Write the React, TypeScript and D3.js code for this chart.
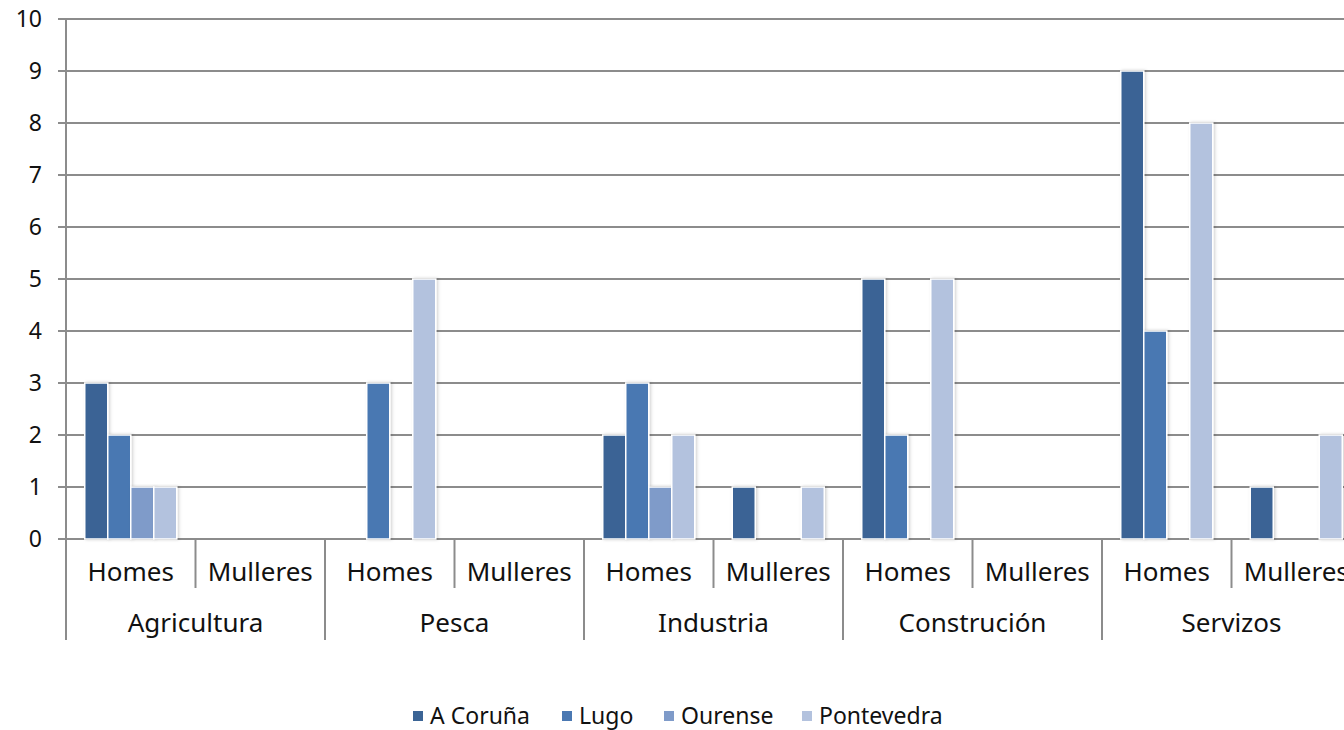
import React from "react";
import * as d3 from "d3";

const sectors = ["Agricultura", "Pesca", "Industria", "Construción", "Servizos"];
const sexes = ["Homes", "Mulleres"];
const provinces = ["A Coruña", "Lugo", "Ourense", "Pontevedra"];
const colors = ["#3b6495", "#4a78b2", "#7f9bc9", "#b3c2de"];
// values per province, in order: sector x sex
const aCoruna = [3, 0, 0, 0, 2, 1, 5, 0, 9, 1];
const lugo = [2, 0, 3, 0, 3, 0, 2, 0, 4, 0];
const ourense = [1, 0, 0, 0, 1, 0, 0, 0, 0, 0];
const pontevedra = [1, 0, 5, 0, 2, 1, 5, 0, 8, 2];
const series = [aCoruna, lugo, ourense, pontevedra];
const yTicks = [0, 1, 2, 3, 4, 5, 6, 7, 8, 9, 10];

const W = 1344, H = 730;
const left = 66, plotRight = 1361, top = 19, bottom = 539;
const font = "'Noto Sans', sans-serif";

export default function App() {
  const subKeys = sectors.flatMap((s) => sexes.map((x) => s + "|" + x));
  const x0 = d3.scaleBand().domain(subKeys).range([left, plotRight]).paddingInner(0).paddingOuter(0);
  const x1 = d3.scaleBand().domain(provinces).range([0, x0.bandwidth()]).paddingOuter(0.815).paddingInner(0);
  const y = d3.scaleLinear().domain([0, 10]).range([bottom, top]);
  const groupW = x0.bandwidth() * 2;

  return (
    <svg width={W} height={H} style={{ position: "absolute", left: 0, top: 0, background: "#fff" }}>
      <defs>
        <filter id="sh" x="-20%" y="-5%" width="150%" height="115%">
          <feDropShadow dx="1.5" dy="0" stdDeviation="1.5" floodColor="#000" floodOpacity="0.18" />
        </filter>
      </defs>
      {yTicks.map((t) => (
        <g key={t}>
          <line x1={58} x2={W} y1={y(t)} y2={y(t)} stroke="#8c8c8c" strokeWidth={2} />
          <text x={42} y={y(t) + 8} textAnchor="end" fontFamily={font} fontSize={23} fill="#111">{t}</text>
        </g>
      ))}
      <line x1={left} x2={left} y1={top} y2={640} stroke="#8c8c8c" strokeWidth={2} />
      {subKeys.map((k, i) => {
        const xs = x0(k)!;
        const isGroupEnd = i % 2 === 1;
        return (
          <g key={k}>
            <line x1={xs + x0.bandwidth()} x2={xs + x0.bandwidth()} y1={bottom} y2={isGroupEnd ? 640 : 588} stroke="#8c8c8c" strokeWidth={2} />
            <text x={xs + x0.bandwidth() / 2} y={581} textAnchor="middle" fontFamily={font} fontSize={26} fill="#111">{k.split("|")[1]}</text>
          </g>
        );
      })}
      {sectors.map((s) => (
        <text key={s} x={x0(s + "|Homes")! + groupW / 2} y={632} textAnchor="middle" fontFamily={font} fontSize={26} fill="#111">{s}</text>
      ))}
      {series.map((vals, si) =>
        vals.map((v, i) =>
          v > 0 ? (
            <rect
              key={si + "-" + i}
              x={x0(subKeys[i])! + x1(provinces[si])!}
              y={y(v)}
              width={x1.bandwidth()}
              height={bottom - y(v)}
              fill={colors[si]}
              stroke="#fff"
              strokeWidth={1.5}
              filter="url(#sh)"
            />
          ) : null
        )
      )}
      {provinces.map((p, i) => {
        const lx = [413, 562, 664, 802][i];
        return (
          <g key={p}>
            <rect x={lx} y={711} width={10} height={10} fill={colors[i]} />
            <text x={lx + 17} y={724} fontFamily={font} fontSize={23} fill="#111">{p}</text>
          </g>
        );
      })}
    </svg>
  );
}
